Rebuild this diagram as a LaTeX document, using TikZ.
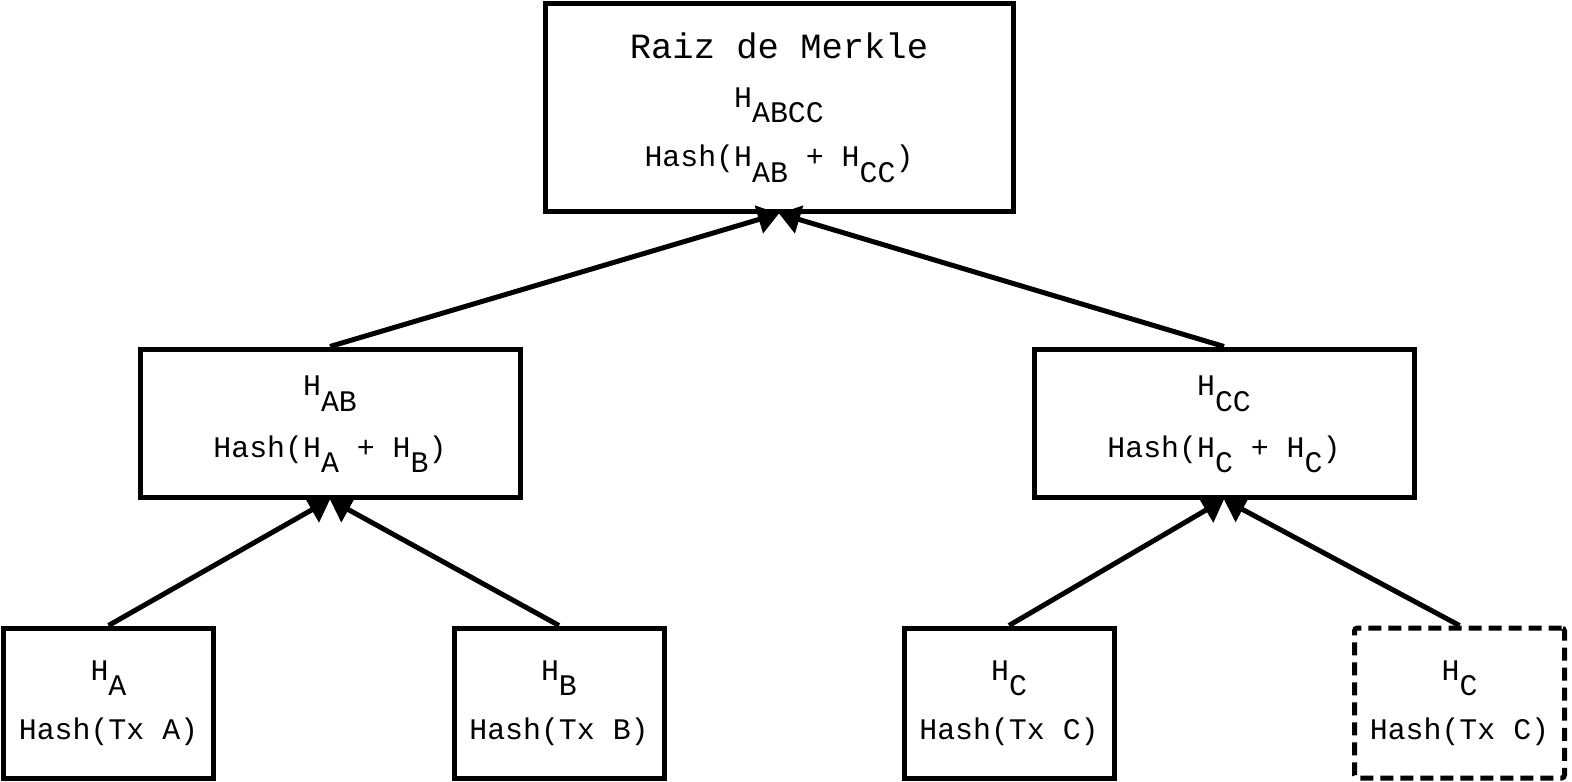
\documentclass[tikz,border=0pt]{standalone}
\usepackage{fontspec}
\setmonofont{Liberation Mono}
\usetikzlibrary{arrows.meta}
\newcommand{\hsub}[1]{\smash{\raisebox{-4.4pt}{#1}}}
\newcommand{\txtfont}{\ttfamily\fontsize{8.5}{10}\selectfont}
\newcommand{\ttlfont}{\fontsize{10.1}{10}\selectfont}

\begin{document}
\begin{tikzpicture}[
		hashbox/.style = {draw, line width=0.05cm, align=center, inner sep=0pt, font=\txtfont},
		leafbox/.style = {hashbox, minimum width=2.10cm, minimum height=1.50cm},
		midbox/.style = {hashbox, minimum width=3.80cm, minimum height=1.48cm},
		dupbox/.style = {leafbox, dash pattern=on 0.13cm off 0.07cm, rounded corners=0.03cm},
		arr/.style = {-{Triangle[length=0.21cm, width=0.28cm]}, line width=0.05cm}]
		\useasboundingbox (0,0) rectangle (15.72,-7.82);
		\node (root)[hashbox, minimum width=4.68cm, minimum height=2.08cm] at(7.79,-1.07) {{\ttlfont Raiz de Merkle}\\[3.7pt] H\hsub{ABCC}\\[7pt] Hash(H\hsub{AB} + H\hsub{CC})\rule[-4pt]{0pt}{0pt}};
		\node (hab)[midbox] at(3.30,-4.23) {H\hsub{AB}\\[7.4pt] Hash(H\hsub{A} + H\hsub{B})\rule[-3.6pt]{0pt}{0pt}};
		\node (hcc)[midbox] at(12.24,-4.23) {H\hsub{CC}\\[7.4pt] Hash(H\hsub{C} + H\hsub{C})\rule[-3.6pt]{0pt}{0pt}};
		\node (ha)[leafbox] at(1.085,-7.03) {H\hsub{A}\\[6.8pt] Hash(Tx A)};
		\node (hb)[leafbox] at(5.59,-7.03) {H\hsub{B}\\[6.8pt] Hash(Tx B)};
		\node (hc)[leafbox] at(10.09,-7.03) {H\hsub{C}\\[6.8pt] Hash(Tx C)};
		\node (hcdup)[dupbox] at(14.595,-7.03) {H\hsub{C}\\[6.8pt] Hash(Tx C)};
		\draw [arr](ha.north)--(hab.south);
		\draw [arr](hb.north)--(hab.south);
		\draw [arr](hc.north)--(hcc.south);
		\draw [arr](hcdup.north)--(hcc.south);
		\draw [arr](hab.north)--(root.south);
		\draw [arr](hcc.north)--(root.south);
	\end{tikzpicture}
\end{document}
